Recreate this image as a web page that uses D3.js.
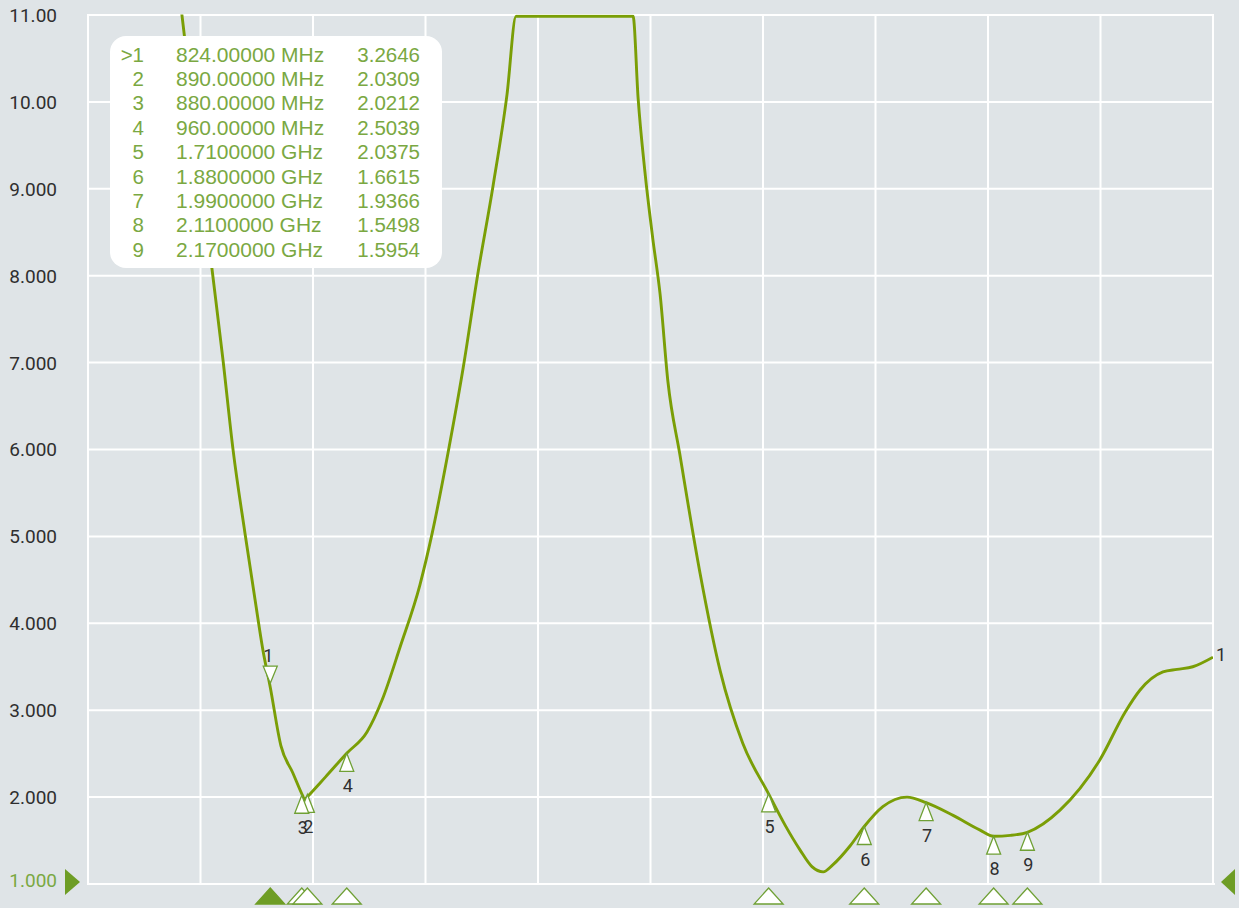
<!DOCTYPE html>
<html>
<head>
<meta charset="utf-8">
<script src="https://cdn.jsdelivr.net/npm/d3@7"></script>
<style>
  html, body { margin: 0; padding: 0; background: #dfe4e7; }
  svg { display: block; }
</style>
</head>
<body>
<svg id="chart" width="1239" height="908"></svg>
<script>
// ---------- data ----------
const traceFreqMHz = [646, 667, 720, 740, 758, 779, 797, 811, 824, 843, 864, 882, 885, 888, 922, 960, 996, 1023, 1055, 1090, 1112, 1140, 1167, 1193, 1220, 1245, 1261, 1469, 1478, 1490, 1504, 1517, 1531, 1552, 1588, 1624, 1664, 1710, 1739, 1766, 1787, 1807, 1824, 1855, 1880, 1913, 1956, 1990, 2038, 2086, 2110, 2140, 2170, 2228, 2299, 2344, 2370, 2411, 2436, 2464, 2500];
const traceVSWR = [12.15, 11.00, 8.10, 7.03, 5.99, 5.04, 4.27, 3.69, 3.2646, 2.59, 2.28, 2.01, 1.97, 1.99, 2.23, 2.5039, 2.75, 3.12, 3.73, 4.44, 5.04, 5.96, 6.94, 8.02, 9.03, 10.09, 10.985, 10.985, 10.04, 9.20, 8.43, 7.79, 6.78, 5.95, 4.58, 3.45, 2.62, 2.0375, 1.68, 1.39, 1.20, 1.14, 1.22, 1.44, 1.6615, 1.89, 2.00, 1.9366, 1.79, 1.62, 1.5498, 1.56, 1.5954, 1.85, 2.43, 2.98, 3.23, 3.44, 3.47, 3.50, 3.61];

const markerIds = ["1", "2", "3", "4", "5", "6", "7", "8", "9"];
const markerFreqMHz = [824, 890, 880, 960, 1710, 1880, 1990, 2110, 2170];
const markerValues = [3.2646, 2.0309, 2.0212, 2.5039, 2.0375, 1.6615, 1.9366, 1.5498, 1.5954];
const markerFreqText = ["824.00000 MHz", "890.00000 MHz", "880.00000 MHz", "960.00000 MHz", "1.7100000 GHz", "1.8800000 GHz", "1.9900000 GHz", "2.1100000 GHz", "2.1700000 GHz"];
const markerValueText = ["3.2646", "2.0309", "2.0212", "2.5039", "2.0375", "1.6615", "1.9366", "1.5498", "1.5954"];
const activeMarker = "1";

const yTicks = [1, 2, 3, 4, 5, 6, 7, 8, 9, 10, 11];
const xGridMHz = [500, 700, 900, 1100, 1300, 1500, 1700, 1900, 2100, 2300, 2500];
const xDomainMHz = [500, 2500];
const yDomain = [1, 11];

(function () {
// ---------- setup ----------
const green = "#7a9e06";
const markGreen = "#6fa035";
const textGreen = "#7aa842";
const dark = "#2f2f2f";

const svg = d3.select("#chart");
const pL = 88, pR = 1213, pT = 15, pB = 884;

const x = d3.scaleLinear().domain(xDomainMHz).range([pL, pR]);
const y = d3.scaleLinear().domain(yDomain).range([pB, pT]);

svg.append("rect").attr("width", 1239).attr("height", 908).attr("fill", "#dfe4e7");

// grid
const grid = svg.append("g");
grid.selectAll("line.h").data(yTicks).join("line")
  .attr("x1", pL - 1).attr("x2", d => d === 1 ? pR + 2 : pR + 1)
  .attr("y1", d => y(d)).attr("y2", d => y(d))
  .attr("stroke", "#ffffff").attr("stroke-width", 2);
grid.selectAll("line.v").data(xGridMHz).join("line")
  .attr("x1", d => x(d)).attr("x2", d => x(d))
  .attr("y1", pT).attr("y2", pB)
  .attr("stroke", "#ffffff").attr("stroke-width", 2);

// y axis labels
const yAxis = d3.axisLeft(y).tickValues(yTicks).tickSize(0).tickPadding(31)
  .tickFormat(d3.format(".4r"));
const yg = svg.append("g").attr("transform", `translate(${pL},0)`).call(yAxis);
yg.select(".domain").remove();
yg.selectAll("text")
  .attr("font-family", "Roboto, 'DejaVu Sans', sans-serif")
  .attr("font-size", 19)
  .attr("fill", d => d === 1 ? textGreen : dark)
  .attr("dy", d => d === 1 ? "0.15em" : "0.34em");

// reference level arrows
const refY = y(1) - 2;
svg.append("path")
  .attr("d", `M65,${refY - 13} L80,${refY} L65,${refY + 13} Z`)
  .attr("fill", "#6e9d25");
svg.append("path")
  .attr("d", `M1235,${refY - 13} L1221,${refY} L1235,${refY + 13} Z`)
  .attr("fill", "#6e9d25");

// clip
svg.append("clipPath").attr("id", "plotclip")
  .append("rect").attr("x", pL).attr("y", pT - 0.5).attr("width", pR - pL).attr("height", pB - pT + 0.5);

const traceData = traceFreqMHz.map((f, i) => [f, traceVSWR[i]]);
const line = d3.line()
  .x(d => x(d[0])).y(d => y(d[1]))
  .curve(d3.curveMonotoneX);

svg.append("path")
  .datum(traceData)
  .attr("clip-path", "url(#plotclip)")
  .attr("d", line)
  .attr("fill", "none")
  .attr("stroke", green)
  .attr("stroke-width", 2.9)
  .attr("stroke-linejoin", "round");

// trace label at the right end
svg.append("text")
  .attr("x", pR + 3).attr("y", y(traceVSWR[traceVSWR.length - 1]) + 4)
  .attr("font-family", "Roboto, sans-serif").attr("font-size", 18)
  .attr("fill", dark).text("1");

// markers on trace
const markers = markerIds.map((id, i) => ({ id, f: markerFreqMHz[i], v: markerValues[i] }));
const mg = svg.append("g");
const hw = 7, th = 18;
markers.forEach(m => {
  const mx = x(m.f), my = y(m.v);
  if (m.id === activeMarker) {
    const tip = my - 4;
    mg.append("path")
      .attr("d", `M${mx - hw},${tip - th + 1} L${mx + hw},${tip - th + 1} L${mx},${tip} Z`)
      .attr("fill", "#ffffff").attr("stroke", markGreen).attr("stroke-width", 1.3);
    mg.append("text").attr("x", mx - 2).attr("y", tip - th - 3)
      .attr("text-anchor", "middle")
      .attr("font-family", "Roboto, sans-serif").attr("font-size", 18)
      .attr("fill", dark).text(m.id);
  } else {
    mg.append("path")
      .attr("d", `M${mx},${my} L${mx + hw},${my + th} L${mx - hw},${my + th} Z`)
      .attr("fill", "#ffffff").attr("stroke", markGreen).attr("stroke-width", 1.3);
    mg.append("text").attr("x", mx + 1).attr("y", my + 39)
      .attr("text-anchor", "middle")
      .attr("font-family", "Roboto, sans-serif").attr("font-size", 18)
      .attr("fill", dark).text(m.id);
  }
});

// markers along the bottom
const bg = svg.append("g");
const bOrder = markers.slice().reverse();
bOrder.forEach(m => {
  const mx = x(m.f);
  const active = m.id === activeMarker;
  bg.append("path")
    .attr("d", `M${mx},888 L${mx + 14.5},904 L${mx - 14.5},904 Z`)
    .attr("fill", active ? "#6e9d25" : "#ffffff")
    .attr("stroke", active ? "#6e9d25" : markGreen)
    .attr("stroke-width", 1.3);
});

// legend table
const lg = svg.append("g");
lg.append("rect")
  .attr("x", 110).attr("y", 36).attr("width", 332).attr("height", 232)
  .attr("rx", 16).attr("ry", 16).attr("fill", "#ffffff");
const rowY = i => 61.5 + i * 24.4;
const lfont = "'Liberation Sans', Arial, sans-serif";
markers.forEach((m, i) => {
  lg.append("text").attr("x", 144).attr("y", rowY(i)).attr("text-anchor", "end")
    .attr("font-family", lfont).attr("font-size", 20.5).attr("fill", textGreen)
    .text((m.id === activeMarker ? ">" : "") + m.id);
  lg.append("text").attr("x", 176).attr("y", rowY(i))
    .attr("font-family", lfont).attr("font-size", 21).attr("fill", textGreen)
    .text(markerFreqText[i]);
  lg.append("text").attr("x", 420).attr("y", rowY(i)).attr("text-anchor", "end")
    .attr("font-family", lfont).attr("font-size", 20.5).attr("fill", textGreen)
    .text(markerValueText[i]);
});
})();
</script>
</body>
</html>
